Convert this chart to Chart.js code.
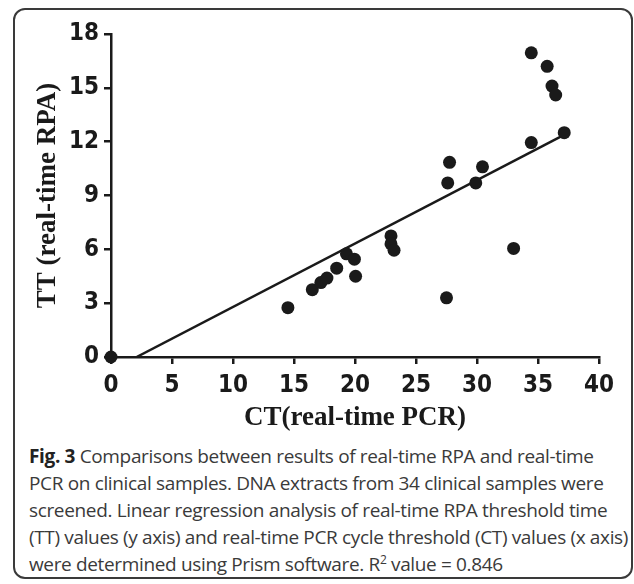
<!DOCTYPE html>
<html>
<head>
<meta charset="utf-8">
<script src="https://cdn.jsdelivr.net/npm/chart.js@4"></script>
<style>
  body { margin: 0; background: #fff; }
  #wrap { position: relative; width: 634px; height: 584px; overflow: hidden; }
  #frame {
    position: absolute; left: 13px; top: 8px; width: 616px; height: 567px;
    border: 2px solid #3a3a3a; border-radius: 12px;
  }
  #ct_tt_chart { position: absolute; left: 0; top: 0; }
  #caption {
    position: absolute; left: 29px; top: 443px;
    font-family: 'Open Sans', 'Noto Sans', sans-serif; font-size: 19px; line-height: 27px;
    color: #3a3a3a; white-space: nowrap; letter-spacing: -0.35px;
  }
  #caption b { color: #222; }
</style>
</head>
<body>
<div id="wrap">
  <div id="frame"></div>
  <canvas id="ct_tt_chart" width="634" height="440"></canvas>
  <div id="caption">
    <b>Fig. 3</b> Comparisons between results of real-time RPA and real-time<br>
    PCR on clinical samples. DNA extracts from 34 clinical samples were<br>
    screened. Linear regression analysis of real-time RPA threshold time<br>
    (TT) values (y axis) and real-time PCR cycle threshold (CT) values (x axis)<br>
    were determined using Prism software. R<sup style="font-size:12px;line-height:0">2</sup> value = 0.846
  </div>
</div>

<script>
// CT (real-time PCR) vs TT (real-time RPA)
const ct_values = [0, 14.5, 16.5, 17.2, 17.7, 18.5, 19.3, 19.95, 20.05, 22.95, 22.95, 23.2,
  27.5, 27.6, 27.75, 29.9, 30.45, 33.0, 34.45, 34.45, 35.75, 36.15, 36.45, 37.15]
const tt_values = [0, 2.75, 3.75, 4.15, 4.4, 4.95, 5.75, 5.45, 4.5, 6.75, 6.3, 5.95,
  3.3, 9.7, 10.85, 9.7, 10.6, 6.05, 11.95, 16.95, 16.2, 15.1, 14.6, 12.5]

// regression line end points
const fit_x = [2.1, 36.9]
const fit_y = [0, 12.3]

const x_ticks = [0, 5, 10, 15, 20, 25, 30, 35, 40]
const y_ticks = [0, 3, 6, 9, 12, 15, 18]

const ink = '#1a1a1a'

const sample_points = ct_values.map((ct, i) => ({ x: ct, y: tt_values[i] }))
const fit_points = fit_x.map((fx, i) => ({ x: fx, y: fit_y[i] }))

const tick_font = { family: "'Liberation Sans Narrow', 'DejaVu Sans Condensed', Arial", size: 24, weight: 'bold' }
const title_font = { family: "'Liberation Serif', 'Times New Roman', serif", size: 27, weight: 'bold' }

const ctx = document.getElementById('ct_tt_chart').getContext('2d');

const ct_tt_chart = new Chart(ctx, {
  type: 'scatter',
  data: {
    datasets: [
      {
        type: 'line',
        data: fit_points,
        borderColor: ink,
        borderWidth: 2.5,
        pointRadius: 0,
        fill: false,
        order: 2
      },
      {
        data: sample_points,
        backgroundColor: ink,
        borderWidth: 0,
        pointRadius: 6.5,
        clip: false,
        order: 1
      }]
  },
  options: {
    responsive: false,
    animation: false,
    layout: {
      padding: { left: 0, top: 34, right: 35, bottom: 0 }
    },
    plugins: {
      legend: { display: false },
      tooltip: { enabled: false }
    },
    scales: {
      x: {
        type: 'linear',
        min: 0,
        max: 40,
        afterBuildTicks: (scale) => { scale.ticks = x_ticks.map(v => ({ value: v })) },
        ticks: { color: ink, font: tick_font, padding: 7 },
        grid: { drawOnChartArea: false, drawTicks: true, tickLength: 7, color: ink, lineWidth: 2.5 },
        border: { display: true, color: ink, width: 2.5 },
        title: {
          display: true,
          text: 'CT(real-time PCR)',
          color: ink,
          font: title_font,
          padding: { top: 0, bottom: 6 }
        },
        afterFit: (scale) => { scale.height = 83 }
      },
      y: {
        type: 'linear',
        min: 0,
        max: 18,
        afterBuildTicks: (scale) => { scale.ticks = y_ticks.map(v => ({ value: v })) },
        ticks: { color: ink, font: tick_font, padding: 5 },
        grid: { drawOnChartArea: false, drawTicks: true, tickLength: 7, color: ink, lineWidth: 2.5 },
        border: { display: true, color: ink, width: 2.5 },
        title: {
          display: true,
          text: 'TT (real-time RPA)',
          color: ink,
          font: title_font,
          padding: { top: 32, bottom: 0 }
        },
        afterFit: (scale) => { scale.width = 111 }
      }
    }
  }
});
</script>
</body>
</html>
